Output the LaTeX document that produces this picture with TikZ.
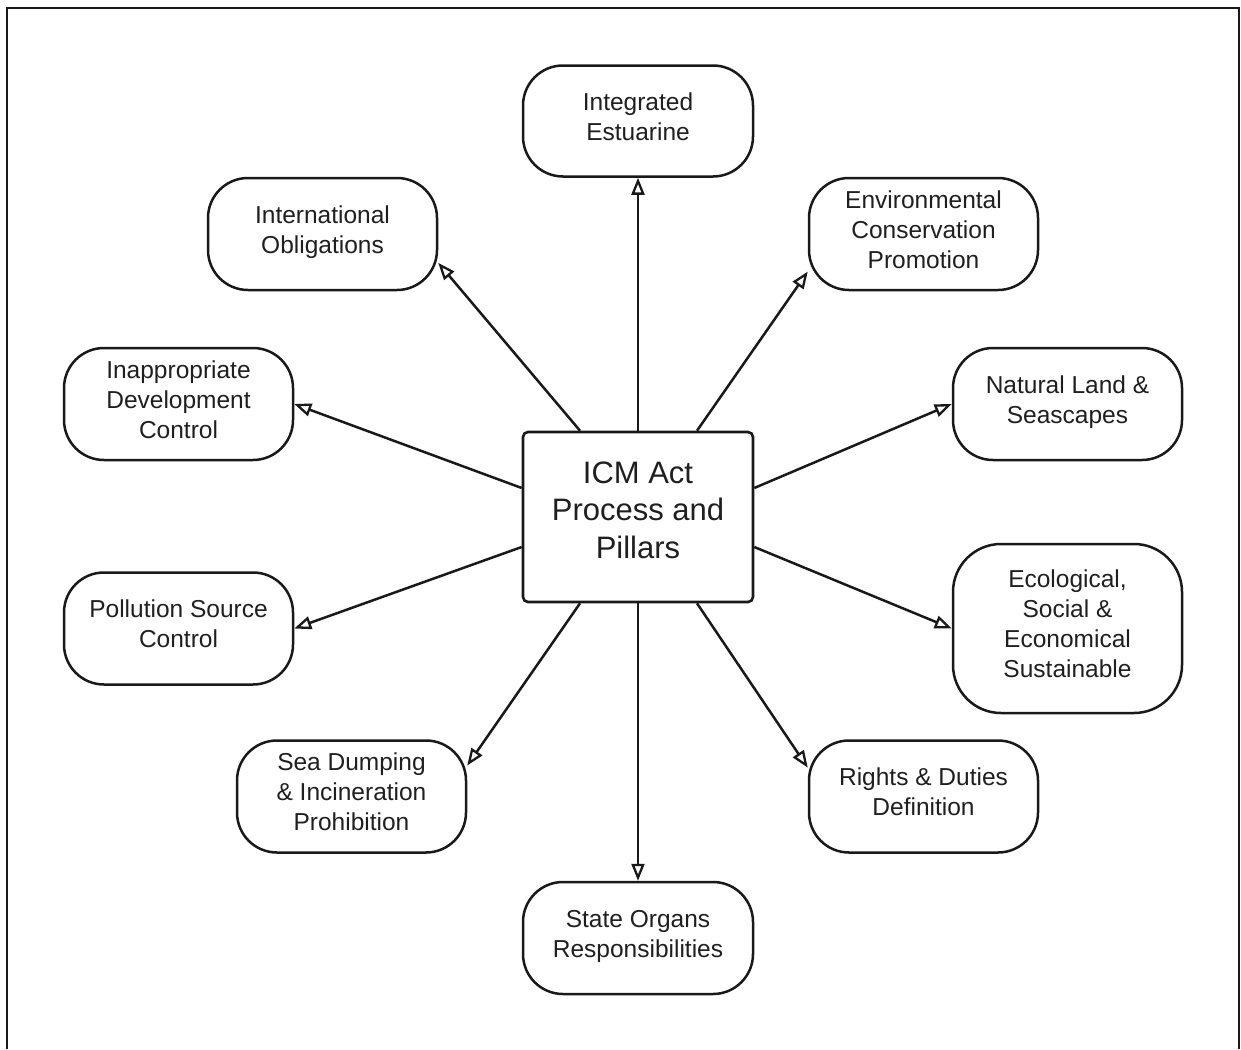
\documentclass[tikz,border=0pt]{standalone}
\usepackage{fontspec}
\setmainfont{Liberation Sans}
\usetikzlibrary{arrows.meta}
\begin{document}
\begin{tikzpicture}[x=1pt,y=-1pt,
  pillar/.style={draw=black!90, line width=2.5pt, rounded corners=40pt,
    minimum width=229pt, minimum height=112pt, align=center, inner sep=0pt,
    text=black!88, font=\fontsize{24.5}{30}\selectfont,
    execute at end node={\rule[-9pt]{0pt}{1pt}}},
  hub/.style={draw=black!90, line width=2.6pt, rounded corners=5pt,
    minimum width=230pt, minimum height=170pt, align=center, inner sep=0pt,
    text=black!88, font=\fontsize{31}{37.5}\selectfont,
    execute at end node={\rule[-14pt]{0pt}{1pt}}},
  link/.style={draw=black!90, line width=2.5pt,
    -{Triangle[open, length=17pt, width=13pt, line width=2.3pt]}}]
\useasboundingbox (0,0) rectangle (1241,1049);
% open frame round the whole diagram
\draw[line width=2.8pt, black!90] (7,1049) -- (7,8) -- (1239,8) -- (1239,1049);

% central box
\node[hub] (hub) at (638,517) {ICM Act\\Process and\\Pillars};

% outer pillars
\node[pillar, minimum width=230pt, minimum height=111pt] (integ) at (638,121) {Integrated\\Estuarine};
\node[pillar] (intl) at (322.5,234) {International\\Obligations};
\node[pillar] (env) at (923.5,234) {Environmental\\Conservation\\Promotion};
\node[pillar] (inapp) at (178.5,404) {Inappropriate\\Development\\Control};
\node[pillar] (land) at (1067.5,404) {Natural Land \&\\Seascapes};
\node[pillar] (poll) at (178.5,628.5) {Pollution Source\\Control};
\node[pillar, minimum height=169pt, rounded corners=48pt] (eco) at (1067.5,628.5) {Ecological,\\Social \&\\Economical\\Sustainable};
\node[pillar] (sea) at (351.5,796.5) {Sea Dumping\\\& Incineration\\Prohibition};
\node[pillar] (rights) at (923.5,796.5) {Rights \& Duties\\Definition};
\node[pillar, minimum width=230pt] (state) at (638,938) {State Organs\\Responsibilities};

% start points on the central box
\coordinate (t1) at ([xshift=-58pt]hub.north);
\coordinate (t2) at (hub.north);
\coordinate (t3) at ([xshift=59pt]hub.north);
\coordinate (b1) at ([xshift=-58pt]hub.south);
\coordinate (b2) at (hub.south);
\coordinate (b3) at ([xshift=59pt]hub.south);
\coordinate (l1) at ([yshift=29pt]hub.west);
\coordinate (l2) at ([yshift=-30pt]hub.west);
\coordinate (r1) at ([yshift=29pt]hub.east);
\coordinate (r2) at ([yshift=-30pt]hub.east);

% connectors
\draw[link] (t2) -- (integ.south);
\draw[link] (t1) -- (intl.-14);
\draw[link] (t3) -- (env.198);
\draw[link] (l1) -- (inapp.east);
\draw[link] (r1) -- (land.west);
\draw[link] (l2) -- (poll.east);
\draw[link] (r2) -- (eco.west);
\draw[link] (b1) -- (sea.15);
\draw[link] (b3) -- (rights.166);
\draw[link] (b2) -- (state.north);
\end{tikzpicture}
\end{document}
